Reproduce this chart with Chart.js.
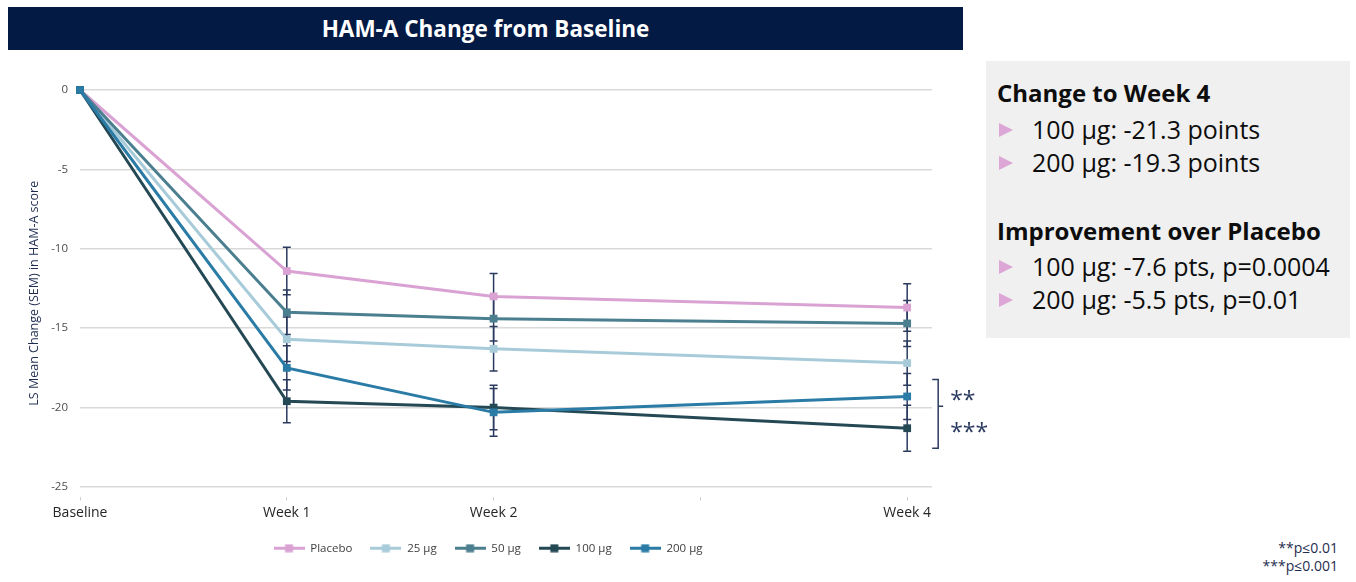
<!DOCTYPE html>
<html>
<head>
<meta charset="utf-8">
<title>HAM-A Change from Baseline</title>
<script src="https://cdn.jsdelivr.net/npm/chart.js@4.4.1/dist/chart.umd.min.js"></script>
<style>
  html, body { margin: 0; padding: 0; background: #ffffff; width: 1356px; height: 582px; overflow: hidden; font-family: "Open Sans", sans-serif; }
  #banner { position: absolute; left: 8px; top: 7px; width: 955px; height: 43px; background: #031a45; color: #ffffff;
            font-weight: 700; font-size: 22.5px; line-height: 43px; text-align: center; }
  #wrap { position: absolute; left: 0; top: 56px; width: 1000px; height: 526px; }
  #panel { position: absolute; left: 986px; top: 61px; width: 364px; height: 277px; background: #f0f0f0; color: #0d0d0d; }
  #panel .h { position: absolute; left: 11px; font-weight: 700; font-size: 24px; line-height: 30px; white-space: nowrap; }
  #panel .b { position: absolute; left: 46px; font-size: 25px; line-height: 30px; white-space: nowrap; }
  #panel .tri { position: absolute; left: 13px; width: 0; height: 0; border-top: 7px solid transparent;
                border-bottom: 7px solid transparent; border-left: 14px solid #dca6d6; }
  #foot { position: absolute; right: 18px; top: 539px; text-align: right; font-size: 14px; line-height: 18px; color: #1f2d50; }
</style>
</head>
<body>
<div id="banner">HAM-A Change from Baseline</div>
<div id="wrap"><canvas id="chart"></canvas></div>
<div id="panel">
  <div class="h" style="top:17px">Change to Week 4</div>
  <div class="tri" style="top:62px"></div><div class="b" style="top:53px">100 µg: -21.3 points</div>
  <div class="tri" style="top:95px"></div><div class="b" style="top:86px">200 µg: -19.3 points</div>
  <div class="h" style="top:155px">Improvement over Placebo</div>
  <div class="tri" style="top:199px"></div><div class="b" style="top:190px">100 µg: -7.6 pts, p=0.0004</div>
  <div class="tri" style="top:232px"></div><div class="b" style="top:223px">200 µg: -5.5 pts, p=0.01</div>
</div>
<div id="foot">**p≤0.01<br>***p≤0.001</div>

<script>
// Visit timing (weeks) and axis labels
const weeks = [0, 1, 2, 4];
const xTickLabels = ['Baseline', 'Week 1', 'Week 2', '', 'Week 4'];
const yTicks = [0, -5, -10, -15, -20, -25];

// Treatment groups
const seriesNames = ['Placebo', '25 µg', '50 µg', '100 µg', '200 µg'];

// LS mean change from baseline in HAM-A score
const placebo = [0, -11.4, -13.0, -13.7];
const dose25  = [0, -15.7, -16.3, -17.2];
const dose50  = [0, -14.0, -14.4, -14.7];
const dose100 = [0, -19.6, -20.0, -21.3];
const dose200 = [0, -17.5, -20.3, -19.3];

// Standard errors of the mean
const placeboSem = [0, 1.5, 1.45, 1.5];
const dose25Sem  = [0, 1.4, 1.4, 1.4];
const dose50Sem  = [0, 1.4, 1.4, 1.45];
const dose100Sem = [0, 1.35, 1.4, 1.45];
const dose200Sem = [0, 1.4, 1.5, 1.45];

// Significance versus placebo at Week 4
const sigLabels = ['**', '***'];
const sigGroups = [4, 3];   // indexes into the series list: 200 µg, 100 µg

const seriesValues = [placebo, dose25, dose50, dose100, dose200];
const seriesSem = [placeboSem, dose25Sem, dose50Sem, dose100Sem, dose200Sem];
const seriesColors = ['#d9a2d3', '#a8cbd9', '#4b7f8f', '#244955', '#2a7ba6'];
const navy = '#2b3a5f';
const axisFont = '"Open Sans", sans-serif';

// Legend icon: short line with a square marker in the middle
function legendIcon(color) {
  const c = document.createElement('canvas');
  c.width = 31; c.height = 9;
  const g = c.getContext('2d');
  g.fillStyle = color;
  g.fillRect(0, 3, 31, 3);
  g.fillRect(11.5, 0.5, 8, 8);
  return c;
}
const legendIcons = seriesColors.map(legendIcon);

// Later groups are painted above earlier ones (lower order = drawn on top)
const datasets = seriesNames.map((name, i) => ({
  label: name,
  order: seriesNames.length - i,
  data: weeks.map((w, j) => ({ x: w, y: seriesValues[i][j] })),
  borderColor: seriesColors[i],
  backgroundColor: seriesColors[i],
  borderWidth: 3,
  pointStyle: 'rect',
  pointRadius: 5.5,
  pointBorderWidth: 0,
  pointBackgroundColor: seriesColors[i],
  tension: 0,
  clip: false
}));

// Vertical SEM whiskers with caps, drawn beneath the lines and markers
const errorBars = {
  id: 'errorBars',
  beforeDatasetsDraw(chart) {
    const { ctx, scales: { x, y } } = chart;
    ctx.save();
    ctx.strokeStyle = navy;
    ctx.lineWidth = 1.5;
    chart.data.datasets.forEach((ds, i) => {
      ds.data.forEach((pt, j) => {
        const s = seriesSem[i][j];
        if (!s) return;
        const px = x.getPixelForValue(pt.x);
        const top = y.getPixelForValue(pt.y + s);
        const bot = y.getPixelForValue(pt.y - s);
        ctx.beginPath();
        ctx.moveTo(px, top); ctx.lineTo(px, bot);
        ctx.moveTo(px - 4, top); ctx.lineTo(px + 4, top);
        ctx.moveTo(px - 4, bot); ctx.lineTo(px + 4, bot);
        ctx.stroke();
      });
    });
    ctx.restore();
  }
};

// Bracket and significance asterisks beside the Week 4 points
const sigBracket = {
  id: 'sigBracket',
  afterDatasetsDraw(chart) {
    const { ctx, scales: { x, y } } = chart;
    const last = weeks.length - 1;
    const bx = x.getPixelForValue(weeks[last]) + 31;
    const ys = sigGroups.map(g => y.getPixelForValue(seriesValues[g][last]));
    const top = Math.min(...ys) - 17;
    const bot = Math.max(...ys) + 20;
    const mid = (ys[0] + ys[1]) / 2 - 6;
    ctx.save();
    ctx.strokeStyle = navy;
    ctx.lineWidth = 1.5;
    ctx.beginPath();
    ctx.moveTo(bx - 6, top); ctx.lineTo(bx, top); ctx.lineTo(bx, bot); ctx.lineTo(bx - 6, bot);
    ctx.moveTo(bx, mid); ctx.lineTo(bx + 5, mid);
    ctx.stroke();
    ctx.fillStyle = navy;
    ctx.font = '23px "Open Sans", sans-serif';
    ctx.textAlign = 'left';
    ctx.textBaseline = 'alphabetic';
    sigLabels.forEach((t, k) => ctx.fillText(t, bx + 12, ys[k] + 12));
    ctx.restore();
  }
};

// Centre the legend under the plot area rather than the whole canvas
const legendShift = {
  id: 'legendShift',
  afterLayout(chart) {
    const lg = chart.legend;
    if (!lg) return;
    const d = (chart.chartArea.left + chart.chartArea.right) / 2 - (lg.left + lg.right) / 2 - 18;
    lg.left += d;
    lg.right += d;
  }
};

new Chart(document.getElementById('chart'), {
  type: 'line',
  data: { datasets },
  plugins: [errorBars, sigBracket, legendShift],
  options: {
    responsive: true,
    maintainAspectRatio: false,
    animation: false,
    layout: { padding: { left: 24, right: 68, top: 34, bottom: 18 } },
    plugins: {
      tooltip: { enabled: false },
      legend: {
        position: 'bottom',
        labels: {
          usePointStyle: true,
          pointStyleWidth: 31,
          boxHeight: 9,
          padding: 18,
          color: '#404040',
          font: { family: axisFont, size: 11.5 },
          generateLabels: (chart) => chart.data.datasets.map((ds, i) => ({
            text: ds.label,
            pointStyle: legendIcons[i],
            fillStyle: seriesColors[i],
            strokeStyle: seriesColors[i],
            lineWidth: 0,
            fontColor: '#404040',
            datasetIndex: i,
            hidden: false
          }))
        }
      }
    },
    scales: {
      x: {
        type: 'linear',
        min: 0,
        max: 4.12,
        border: { display: false },
        grid: { drawOnChartArea: false, drawTicks: true, tickLength: 4, color: '#cfcfcf' },
        afterBuildTicks: (s) => { s.ticks = xTickLabels.map((_, i) => ({ value: i })); },
        afterFit: (s) => { s.height = 28; },
        ticks: {
          padding: 4,
          color: '#262626',
          font: { family: axisFont, size: 14 },
          maxRotation: 0,
          callback: (v) => xTickLabels[v] ?? ''
        }
      },
      y: {
        min: -25.6,
        max: 0,
        border: { display: false },
        grid: { drawTicks: false, color: '#d9d9d9', lineWidth: 1.5 },
        afterBuildTicks: (s) => { s.ticks = yTicks.map(v => ({ value: v })); },
        afterFit: (s) => { s.width = 56; },
        ticks: {
          padding: 12,
          color: '#4d4d4d',
          font: { family: axisFont, size: 11.5 }
        },
        title: {
          display: true,
          text: 'LS Mean Change (SEM) in HAM-A score',
          color: '#1f2d50',
          padding: { top: 3, bottom: 0 },
          font: { family: axisFont, size: 12.5 }
        }
      }
    }
  }
});
</script>
</body>
</html>
